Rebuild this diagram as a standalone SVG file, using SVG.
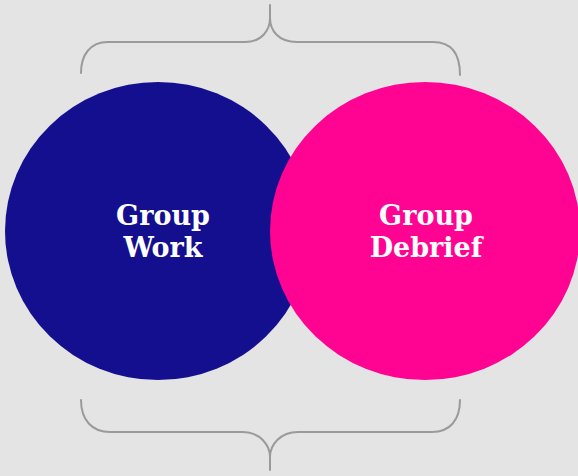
<svg xmlns="http://www.w3.org/2000/svg" width="578" height="476" viewBox="0 0 578 476">
<style>
.bg{fill:#e4e4e4}
.brace{fill:none;stroke:#9a9a9a;stroke-width:2;stroke-linecap:round}
.lbl{font-family:"DejaVu Serif","Liberation Serif",serif;font-weight:bold;font-size:27px;fill:#ffffff;text-anchor:middle}
</style>
<rect class="bg" x="0" y="0" width="578" height="476"/>
<g id="connectors">
<path id="brace-top" class="brace" d="M81,73 C81,55 90,42 108,42 L245,42 C262,42 270,30 270,18 L270,5 M270,18 C270,30 278,42 297,42 L433,42 C452,42 460,55 460,75"/>
<path id="brace-bottom" class="brace" d="M81,400 C81,420 92,432 110,432 L242,432 C260,432 270,445 270,457 L270,470 M270,457 C270,445 280,432 298,432 L432,432 C450,432 460,420 460,400"/>
</g>
<g id="node-group-work">
<ellipse cx="158" cy="231" rx="153" ry="149" fill="#140f8e"/>
<text class="lbl" x="163" y="225">Group</text>
<text class="lbl" x="163" y="257">Work</text>
</g>
<g id="node-group-debrief">
<ellipse cx="425" cy="231" rx="155" ry="149" fill="#ff0392"/>
<text class="lbl" x="426" y="225">Group</text>
<text class="lbl" x="426" y="257">Debrief</text>
</g>
</svg>
